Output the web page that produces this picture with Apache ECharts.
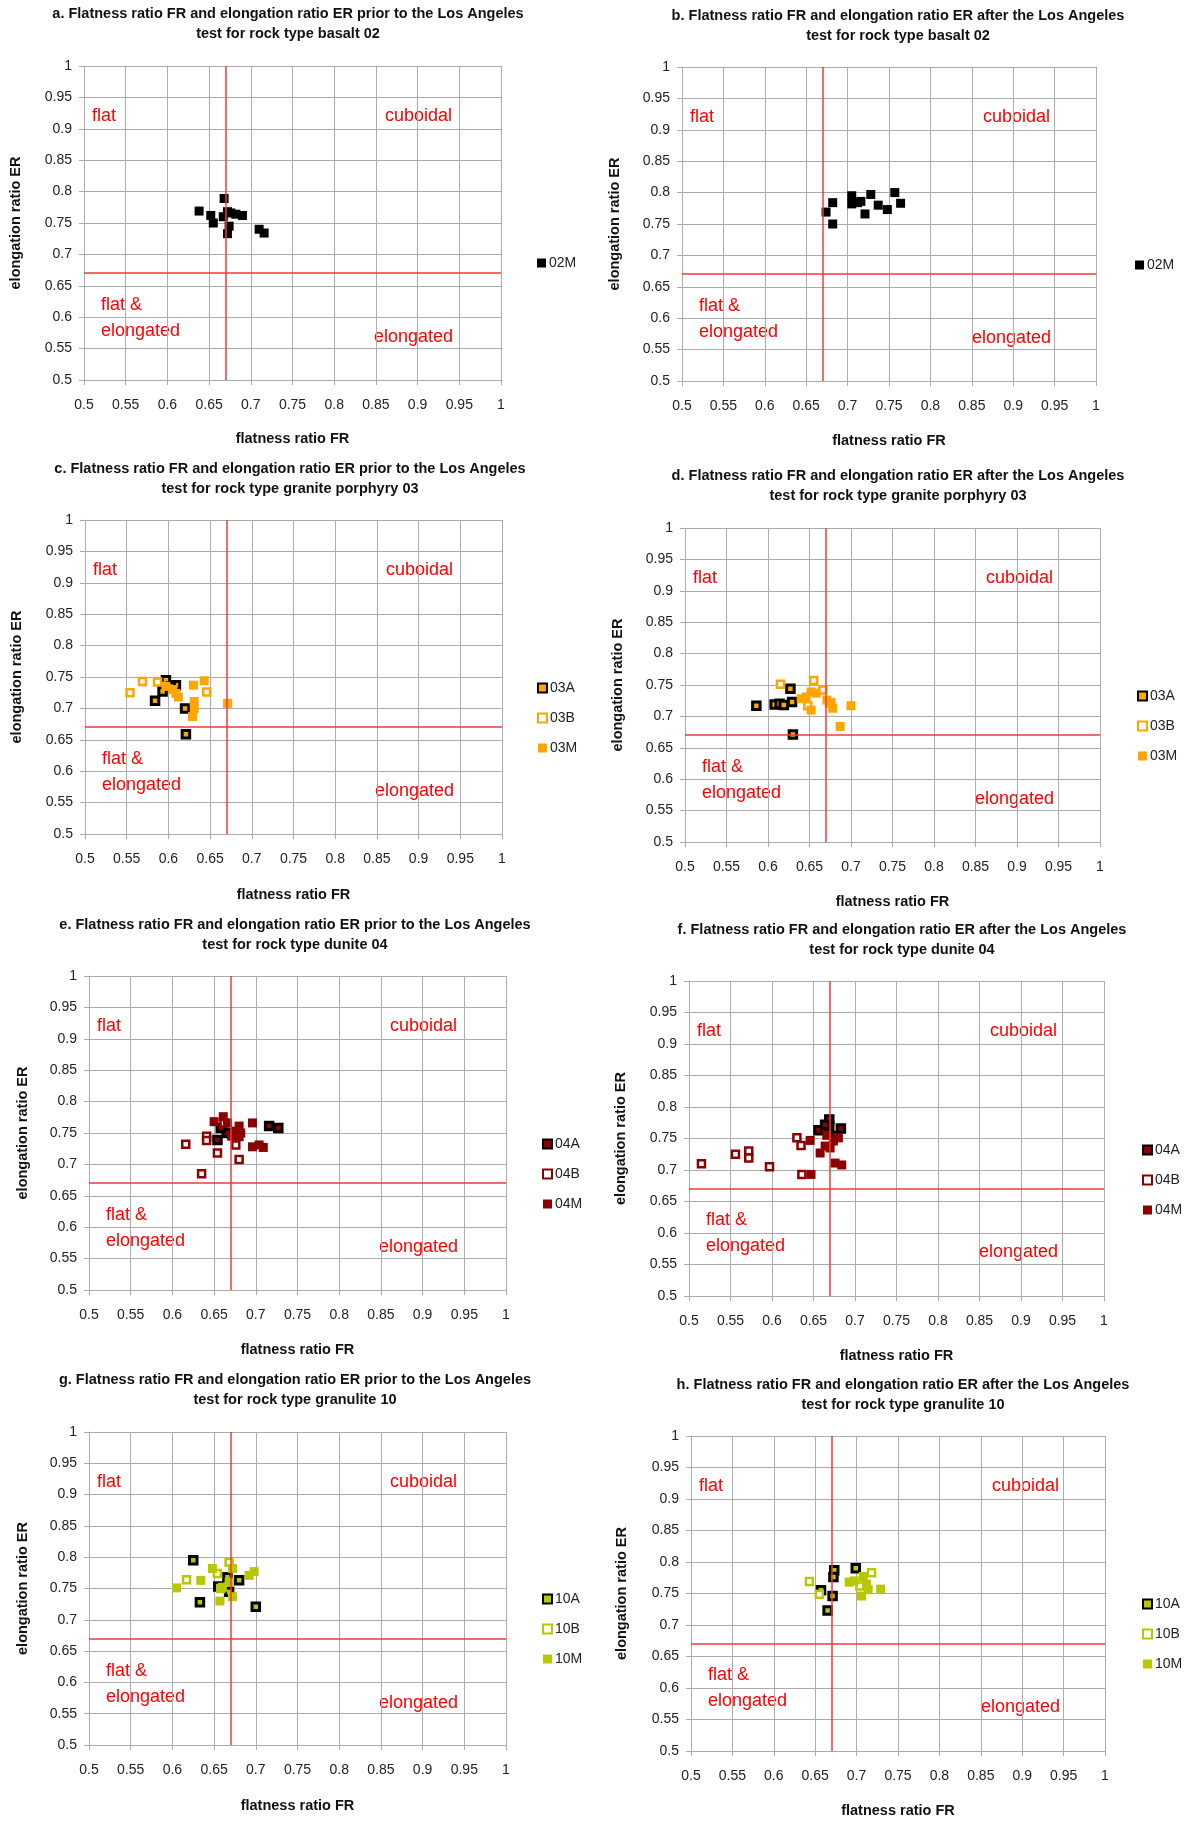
<!DOCTYPE html>
<html><head><meta charset="utf-8">
<script src="https://cdn.jsdelivr.net/npm/echarts@6/dist/echarts.min.js"></script>
<style>html,body{margin:0;padding:0;background:#fff}#c{width:1189px;height:1821px}</style>
</head><body><div id="c"></div>
<script>
// ---- axis ticks / thresholds ----
const AXIS_MIN = 0.5, AXIS_MAX = 1, AXIS_STEP = 0.05;
const THRESHOLD_FR = 0.67, THRESHOLD_ER = 0.67;

// ---- data: [flatness ratio FR, elongation ratio ER] ----
const A_02M = [[0.638,0.769],[0.668,0.789],[0.652,0.762],[0.655,0.750],[0.667,0.760],[0.672,0.768],[0.676,0.766],[0.682,0.764],[0.690,0.762],[0.674,0.745],[0.672,0.733],[0.710,0.740],[0.716,0.734]];
const B_02M = [[0.674,0.769],[0.682,0.784],[0.682,0.750],[0.705,0.795],[0.705,0.782],[0.712,0.784],[0.716,0.786],[0.728,0.797],[0.721,0.766],[0.737,0.780],[0.748,0.773],[0.757,0.800],[0.764,0.783]];

const C_03A = [[0.584,0.712],[0.597,0.745],[0.609,0.737],[0.620,0.700],[0.621,0.659],[0.593,0.727],[0.603,0.735]];
const C_03B = [[0.554,0.725],[0.569,0.743],[0.587,0.742],[0.646,0.726]];
const C_03M = [[0.630,0.737],[0.643,0.744],[0.609,0.724],[0.612,0.718],[0.631,0.711],[0.631,0.700],[0.629,0.687],[0.671,0.708],[0.597,0.735],[0.605,0.730]];

const D_03A = [[0.586,0.717],[0.608,0.719],[0.614,0.720],[0.619,0.718],[0.629,0.723],[0.627,0.744],[0.630,0.671]];
const D_03B = [[0.615,0.751],[0.655,0.757],[0.666,0.742],[0.648,0.717]];
const D_03M = [[0.646,0.731],[0.640,0.728],[0.652,0.739],[0.658,0.737],[0.652,0.710],[0.674,0.721],[0.678,0.713],[0.676,0.722],[0.700,0.717],[0.687,0.684],[0.671,0.726]];

const E_04A = [[0.716,0.761],[0.727,0.758],[0.654,0.739],[0.665,0.750],[0.658,0.758]];
const E_04B = [[0.616,0.732],[0.641,0.745],[0.641,0.738],[0.654,0.718],[0.680,0.708],[0.635,0.685],[0.676,0.731],[0.662,0.766]];
const E_04M = [[0.650,0.768],[0.661,0.776],[0.666,0.766],[0.680,0.761],[0.682,0.750],[0.680,0.744],[0.696,0.766],[0.696,0.728],[0.704,0.731],[0.709,0.727],[0.671,0.745],[0.676,0.753]];

const F_04A = [[0.656,0.763],[0.669,0.780],[0.669,0.769],[0.683,0.766],[0.664,0.772],[0.676,0.754]];
const F_04B = [[0.515,0.710],[0.556,0.725],[0.572,0.730],[0.572,0.719],[0.597,0.705],[0.630,0.751],[0.635,0.739],[0.636,0.693]];
const F_04M = [[0.647,0.693],[0.646,0.747],[0.658,0.727],[0.664,0.738],[0.674,0.746],[0.680,0.751],[0.676,0.711],[0.684,0.708],[0.670,0.735],[0.666,0.755]];

const G_10A = [[0.625,0.795],[0.666,0.768],[0.680,0.763],[0.655,0.753],[0.668,0.745],[0.633,0.728],[0.700,0.721]];
const G_10B = [[0.668,0.792],[0.617,0.764],[0.654,0.774],[0.658,0.750]];
const G_10M = [[0.605,0.751],[0.634,0.763],[0.648,0.782],[0.672,0.782],[0.692,0.771],[0.698,0.777],[0.657,0.730],[0.672,0.737],[0.660,0.752],[0.668,0.760]];

const H_10A = [[0.699,0.790],[0.673,0.787],[0.672,0.776],[0.657,0.755],[0.671,0.746],[0.665,0.723]];
const H_10B = [[0.643,0.769],[0.655,0.749],[0.718,0.783],[0.704,0.762]];
const H_10M = [[0.691,0.768],[0.697,0.770],[0.708,0.777],[0.706,0.746],[0.714,0.756],[0.729,0.757],[0.712,0.765]];

// ---- texts ----
const TITLES = [
  ["a. Flatness ratio FR and elongation ratio ER prior to the Los Angeles","test for rock type basalt 02"],
  ["b. Flatness ratio FR and elongation ratio ER after the Los Angeles","test for rock type basalt 02"],
  ["c. Flatness ratio FR and elongation ratio ER prior to the Los Angeles","test for rock type granite porphyry 03"],
  ["d. Flatness ratio FR and elongation ratio ER after the Los Angeles","test for rock type granite porphyry 03"],
  ["e. Flatness ratio FR and elongation ratio ER prior to the Los Angeles","test for rock type dunite 04"],
  ["f. Flatness ratio FR and elongation ratio ER after the Los Angeles","test for rock type dunite 04"],
  ["g. Flatness ratio FR and elongation ratio ER prior to the Los Angeles","test for rock type granulite 10"],
  ["h. Flatness ratio FR and elongation ratio ER after the Los Angeles","test for rock type granulite 10"]
];
const X_NAME = "flatness ratio FR";
const Y_NAME = "elongation ratio ER";
const QUAD = {flat:"flat", cub:"cuboidal", fe:"flat &\nelongated", el:"elongated"};

// ---- colors ----
const BLACK = '#000000', ORANGE = '#FFA500', DARKRED = '#8B0000', LIME = '#B8C800';

// ---- layout ----
const PANELS = [
  {grid:[84,66,417,314],  title:[288,14],  yName:16,  xName:439,  legend:[532,251]},
  {grid:[682,67,414,314], title:[898,16],  yName:615, xName:441,  legend:[1130,253]},
  {grid:[85,520,417,314], title:[290,469], yName:17,  xName:895,  legend:[532,676]},
  {grid:[685,528,415,314],title:[898,476], yName:618, xName:902,  legend:[1132,684]},
  {grid:[89,976,417,314], title:[295,925], yName:23,  xName:1350, legend:[537,1132]},
  {grid:[689,981,415,315],title:[902,930], yName:621, xName:1356, legend:[1137,1138]},
  {grid:[89,1432,417,313],title:[295,1380],yName:23,  xName:1806, legend:[537,1587]},
  {grid:[691,1436,414,315],title:[903,1385],yName:622,xName:1811, legend:[1137,1592]}
];
const SERIES = [
  [['02M',A_02M,'M',BLACK]],
  [['02M',B_02M,'M',BLACK]],
  [['03A',C_03A,'A',ORANGE],['03B',C_03B,'B',ORANGE],['03M',C_03M,'M',ORANGE]],
  [['03A',D_03A,'A',ORANGE],['03B',D_03B,'B',ORANGE],['03M',D_03M,'M',ORANGE]],
  [['04A',E_04A,'A',DARKRED],['04B',E_04B,'B',DARKRED],['04M',E_04M,'M',DARKRED]],
  [['04A',F_04A,'A',DARKRED],['04B',F_04B,'B',DARKRED],['04M',F_04M,'M',DARKRED]],
  [['10A',G_10A,'A',LIME],['10B',G_10B,'B',LIME],['10M',G_10M,'M',LIME]],
  [['10A',H_10A,'A',LIME],['10B',H_10B,'B',LIME],['10M',H_10M,'M',LIME]]
];

const GRAY = '#ABABAB';
const TICK_FONT = '"Liberation Sans", Arial, sans-serif';
const grids=[], xAxes=[], yAxes=[], series=[], legends=[], graphics=[];

function styleFor(kind, color){
  if(kind==='M') return {symbolSize:9, itemStyle:{color:color, borderWidth:0, opacity:1}};
  if(kind==='A') return {symbolSize:7.5, itemStyle:{color:color, borderColor:'#000', borderWidth:3, opacity:1}};
  return {symbolSize:7, itemStyle:{color:'#fff', borderColor:color, borderWidth:2.5, opacity:1}};
}

PANELS.forEach((p,i)=>{
  const [L,T,W,H] = p.grid;
  grids.push({left:L, top:T, width:W, height:H, containLabel:false});
  const axisCommon = {
    type:'value', gridIndex:i, min:AXIS_MIN, max:AXIS_MAX, interval:AXIS_STEP,
    axisLine:{show:true, lineStyle:{color:GRAY, width:1}},
    axisTick:{show:true, length:5, lineStyle:{color:GRAY}},
    splitLine:{show:true, lineStyle:{color:GRAY, width:1}},
    axisLabel:{color:'#222', fontSize:14, fontFamily:TICK_FONT}
  };
  xAxes.push(Object.assign({}, axisCommon, {axisLabel:Object.assign({}, axisCommon.axisLabel, {margin:18})}));
  yAxes.push(Object.assign({}, axisCommon, {axisLabel:Object.assign({}, axisCommon.axisLabel, {margin:12})}));

  // threshold lines
  series.push({
    type:'scatter', xAxisIndex:i, yAxisIndex:i, data:[], z:1, silent:true,
    markLine:{silent:true, symbol:['none','none'], label:{show:false}, animation:false,
      lineStyle:{color:'#F03A3A', width:1.5, type:'solid'},
      data:[{xAxis:THRESHOLD_FR},{yAxis:THRESHOLD_ER}]}
  });
  SERIES[i].forEach(s=>{
    series.push(Object.assign({
      type:'scatter', name:s[0], xAxisIndex:i, yAxisIndex:i, data:s[1], symbol:'rect', z:3, animation:false,
      emphasis:{disabled:true}
    }, styleFor(s[2], s[3])));
  });
  legends.push({
    data:SERIES[i].map(s=>s[0]), orient:'vertical', left:p.legend[0], top:p.legend[1],
    itemWidth:9, itemHeight:9, itemGap:16, selectedMode:false,
    textStyle:{fontSize:14, color:'#222', fontFamily:TICK_FONT, padding:[0,0,0,-2]}
  });

  // titles
  graphics.push({type:'text', x:p.title[0], y:p.title[1]-10, silent:true,
    style:{text:TITLES[i][0]+'\n'+TITLES[i][1], align:'center', textAlign:'center', verticalAlign:'top', textVerticalAlign:'top',
      font:'bold 14.5px "Liberation Sans", Arial, sans-serif', fill:'#111', lineHeight:20}});
  // axis names
  graphics.push({type:'text', x:L+W/2, y:p.xName, silent:true,
    style:{text:X_NAME, align:'center', textAlign:'center', verticalAlign:'middle', textVerticalAlign:'middle',
      font:'bold 14.5px "Liberation Sans", Arial, sans-serif', fill:'#111'}});
  graphics.push({type:'text', x:p.yName, y:T+H/2, rotation:Math.PI/2, silent:true,
    style:{text:Y_NAME, align:'center', textAlign:'center', verticalAlign:'middle', textVerticalAlign:'middle',
      font:'bold 14.5px "Liberation Sans", Arial, sans-serif', fill:'#111'}});
  // quadrant labels
  const qf = '18px "Liberation Sans", Arial, sans-serif';
  const q = (txt, dx, dy) => graphics.push({type:'text', x:L+dx, y:T+dy, silent:true,
    style:{text:txt, align:'left', textAlign:'left', verticalAlign:'middle', textVerticalAlign:'middle', font:qf, fill:'#FF0000', lineHeight:26}});
  q(QUAD.flat, 8, 50);
  q(QUAD.cub, 301, 50);
  q(QUAD.fe, 17, 252);
  q(QUAD.el, 290, 271);
});

const chart = echarts.init(document.getElementById('c'), null, {renderer:'canvas'});
chart.setOption({
  animation:false, backgroundColor:'#fff',
  grid:grids, xAxis:xAxes, yAxis:yAxes, series:series, legend:legends, graphic:graphics
});
</script>
</body></html>
